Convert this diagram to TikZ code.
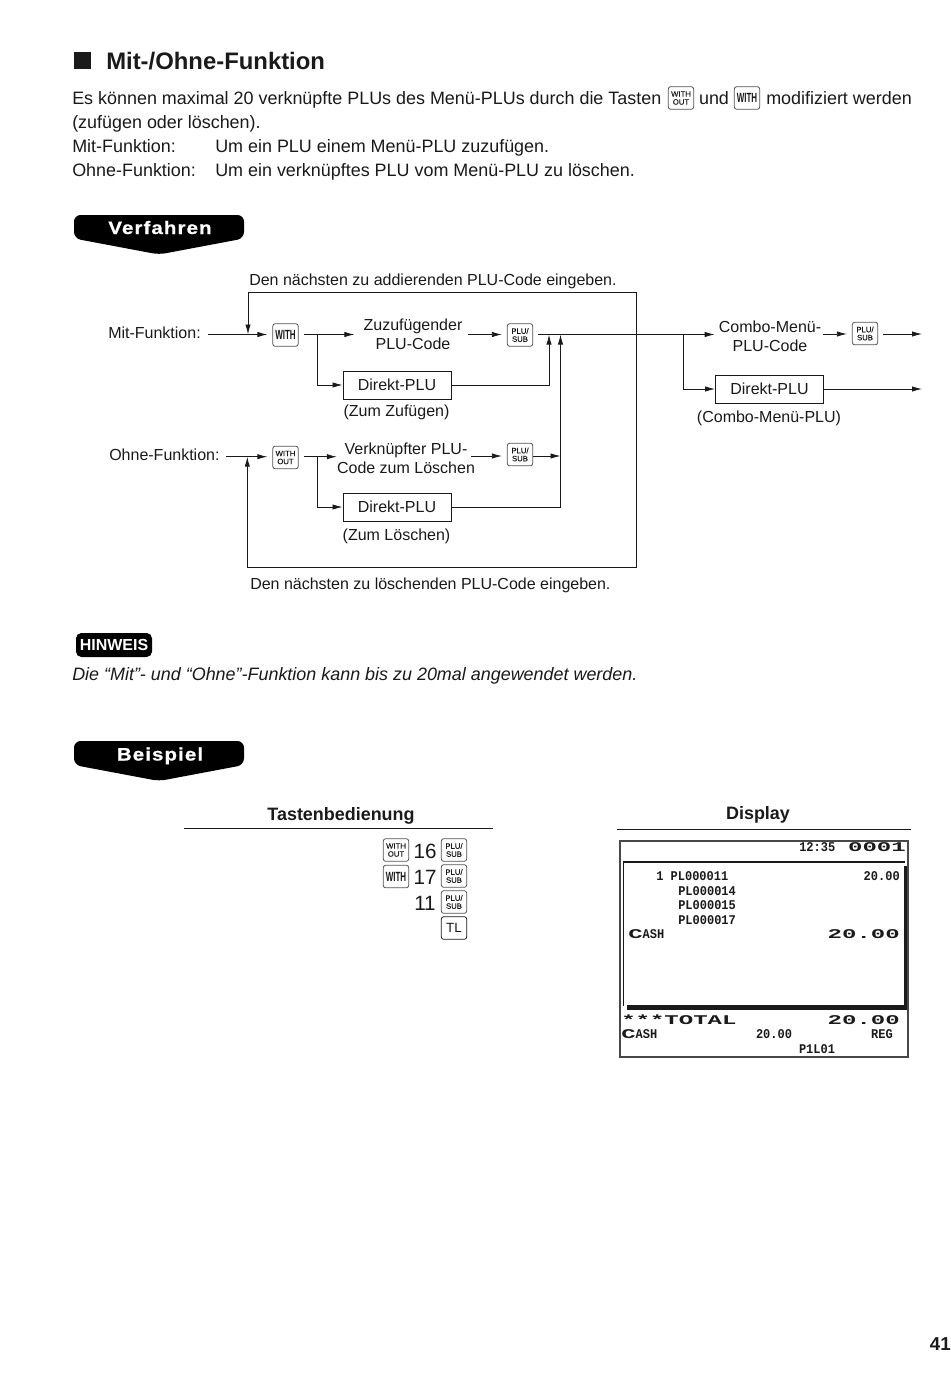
\documentclass[tikz,border=0pt]{standalone}
\usepackage{fontspec}
\setmainfont{Liberation Sans}
\newfontfamily\dispf[FakeStretch=0.9]{Liberation Mono}
\newfontfamily\dispw[FakeStretch=1.8]{Liberation Mono}
\newfontfamily\withf[FakeStretch=0.6]{Liberation Sans}
\newfontfamily\keyf[FakeBold=0.25]{Liberation Sans}
\newfontfamily\banf[FakeStretch=1.14,LetterSpace=6,FakeBold=0.8]{Liberation Sans}
\usetikzlibrary{arrows.meta}
\definecolor{ink}{HTML}{1A1A1A}
\tikzset{
  x=0.75pt,y=-0.75pt,
  txt/.style={inner sep=0pt,text=ink,font=\fontsize{13.45}{16}\selectfont},
  lbl/.style={inner sep=0pt,text=ink,font=\fontsize{12}{14.25}\selectfont,align=center},
  keybox/.style={draw=ink!75,line width=0.6pt,rounded corners=1.8pt,minimum width=19pt,minimum height=17pt,inner sep=0pt,align=center,text=ink},
  smallkey/.style={keybox,font=\keyf\fontsize{5.8}{6}\selectfont},
  withkey/.style={keybox,font=\withf\bfseries\fontsize{10}{10}\selectfont},
  tlkey/.style={keybox,draw=ink,font=\fontsize{10}{10}\selectfont},
  dbox/.style={draw=ink,line width=0.7pt,minimum width=81pt,minimum height=21pt,inner sep=0pt,text=ink,font=\fontsize{12}{14}\selectfont},
  ln/.style={draw=ink,line width=0.6pt},
  thk/.style={draw=ink,line width=0.7pt},
  tipped/.style={-{Latex[length=7.5pt,width=4pt]}},
  arr/.style={ln,tipped},
  tharr/.style={thk,tipped},
  togap/.style={shorten >=3.75pt},
  fromgap/.style={shorten <=3.75pt},
  banner/.style={fill=black,draw=none},
  bannertxt/.style={inner sep=0pt,text=white,font=\banf\bfseries\fontsize{13.5}{15}\selectfont,anchor=base},
  disp/.style={inner sep=0pt,text=ink,font=\dispf\bfseries\fontsize{10}{10}\selectfont},
  dispbig/.style={inner sep=0pt,text=ink,font=\dispw\bfseries\fontsize{10}{10}\selectfont},
  nums/.style={txt,font=\fontsize{15.5}{16}\selectfont},
  boldtxt/.style={txt,font=\bfseries\fontsize{13.45}{16}\selectfont,anchor=base},
}
\begin{document}
\begin{tikzpicture}
\useasboundingbox (0,0) rectangle (950,1377);
\fill[white] (0,0) rectangle (950,1377);
% heading
\fill[ink] (74,52) rectangle (91,69);
\node[txt,anchor=west,font=\bfseries\fontsize{17.9}{20}\selectfont] (title) at (106,61) {Mit-/Ohne-Funktion};
\node[txt,anchor=base west] (p1a) at (72,104.7) {Es können maximal 20 verknüpfte PLUs des Menü-PLUs durch die Tasten};
\node[smallkey] (kwo0) at (681,98) {WITH\\OUT};
\node[txt,anchor=base] (und) at (714,104.7) {und};
\node[withkey] (kw0) at (747,98) {WITH};
\node[txt,anchor=base west] (p1b) at (766,104.7) {modifiziert werden};
\node[txt,anchor=base west] (p2) at (72,128.7) {(zufügen oder löschen).};
\node[txt,anchor=base west] (p3) at (72,152) {Mit-Funktion:};
\node[txt,anchor=base west] (p3b) at (215,152) {Um ein PLU einem Menü-PLU zuzufügen.};
\node[txt,anchor=base west] (p4) at (72,176) {Ohne-Funktion:};
\node[txt,anchor=base west] (p4b) at (215,176) {Um ein verknüpftes PLU vom Menü-PLU zu löschen.};
% Verfahren banner
\fill[banner,rounded corners=5pt] (74,215) -- (244,215) -- (244,238.5) -- (159,254.5) -- (74,238.5) -- cycle;
\node[bannertxt] (vf) at (160,234) {Verfahren};
% diagram nodes
\node[lbl,anchor=base west] (toplbl) at (249,285) {Den nächsten zu addierenden PLU-Code eingeben.};
\node[lbl,anchor=base west] (mit) at (108,338) {Mit-Funktion:};
\coordinate (mits) at (208,334.5);
\coordinate (mitj) at (248,334.5);
\node[withkey] (kw1) at (285.5,335) {WITH};
\coordinate (b1) at (317,334.5);
\node[lbl] (zu) at (413,334) {Zuzufügender\\PLU-Code};
\coordinate (zuo) at (468,334.5);
\node[smallkey] (ps1) at (520,335) {PLU/\\SUB};
\node[dbox] (d1) at (397,385) {Direkt-PLU};
\node[lbl,anchor=base] (zz) at (396.5,416) {(Zum Zufügen)};
\coordinate (up1t) at (549,334.5);
\coordinate (j2) at (560.5,334.5);
\coordinate (lc) at (636.5,334.5);
\coordinate (ltr) at (636.5,292);
\coordinate (ltl) at (248,292);
\coordinate (lbr) at (636.5,567);
\coordinate (lbl0) at (247.3,567);
\coordinate (j3) at (683.5,334.5);
\node[lbl] (combo) at (770,336) {Combo-Menü-\\PLU-Code};
\coordinate (coo) at (823,334);
\node[smallkey] (ps3) at (865,333.5) {PLU/\\SUB};
\coordinate (e1) at (922,334);
\node[dbox] (d3) at (769.5,389) {Direkt-PLU};
\coordinate (e2) at (922,389);
\node[lbl,anchor=base] (cm) at (769,422) {(Combo-Menü-PLU)};
\node[lbl,anchor=base west] (ohne) at (109,460) {Ohne-Funktion:};
\coordinate (os) at (226,456.7);
\coordinate (oj) at (247.3,456.7);
\node[smallkey] (kwo1) at (285.5,457.5) {WITH\\OUT};
\coordinate (b2) at (317,456.7);
\node[lbl] (vk) at (406,458) {Verknüpfter PLU-\\Code zum Löschen};
\coordinate (vko) at (471,456);
\node[smallkey] (ps2) at (520,454.5) {PLU/\\SUB};
\node[dbox] (d2) at (397,507) {Direkt-PLU};
\node[lbl,anchor=base] (zl) at (396.5,540) {(Zum Löschen)};
\node[lbl,anchor=base west] (botlbl) at (250,589) {Den nächsten zu löschenden PLU-Code eingeben.};
% connectors
\draw[tharr,togap] (mits) -- (kw1.west|-mits);
\draw[ln,fromgap] (kw1.east|-b1) -- (b1);
\draw[arr,shorten >=6.75pt] (b1) -- (zu.west|-b1);
\draw[arr] (b1) |- (d1.west);
\draw[arr,togap] (zuo) -- (ps1.west|-zuo);
\draw[ln,fromgap] (ps1.east|-j3) -- (j3);
\draw[arr,shorten >=3pt] (j3) -- (combo.west|-j3);
\draw[arr] (j3) |- (d3.west);
\draw[arr,togap] (coo) -- (ps3.west|-coo);
\draw[arr,fromgap] (ps3.east|-e1) -- (e1);
\draw[arr] (d3.east) -- (e2);
\draw[tharr] (d1.east) -| (up1t);
\draw[arr] (d2.east) -| (j2);
\draw[arr] (ps2.east|-vko) -- (vko-|j2);
\draw[tharr,togap] (os) -- (kwo1.west|-os);
\draw[ln,fromgap] (kwo1.east|-b2) -- (b2);
\draw[arr] (b2) -- (vk.west|-b2);
\draw[arr] (b2) |- (d2.west);
\draw[arr,togap] (vko) -- (ps2.west|-vko);
\draw[thk,tipped] (lc) -- (ltr) -- (ltl) -- (mitj);
\draw[thk,tipped] (lc) -- (lbr) -- (lbl0) -- (oj);
% Hinweis
\node[fill=black,rounded corners=4pt,text=white,inner sep=0pt,minimum width=57pt,minimum height=18pt,font=\bfseries\fontsize{12}{14}\selectfont] (hw) at (114,645) {HINWEIS};
\node[txt,anchor=base west,font=\itshape\fontsize{13.45}{16}\selectfont] (hwt) at (72,680) {Die “Mit”- und “Ohne”-Funktion kann bis zu 20mal angewendet werden.};
% Beispiel banner
\fill[banner,rounded corners=5pt] (74,741) -- (244,741) -- (244,765) -- (159,781) -- (74,765) -- cycle;
\node[bannertxt] (bs) at (160,760.5) {Beispiel};
% Tastenbedienung
\node[boldtxt] (tb) at (341,820) {Tastenbedienung};
\node[boldtxt] (dsp) at (758,819) {Display};
\coordinate (r1a) at (184,828); \coordinate (r1b) at (493,828);
\coordinate (r2a) at (617,829); \coordinate (r2b) at (911,829);
\draw[ln] (r1a) -- (r1b);
\draw[ln] (r2a) -- (r2b);
\node[smallkey] (k1) at (396,850) {WITH\\OUT};
\node[nums] (n16) at (425,851) {16};
\node[smallkey] (k2) at (454,850) {PLU/\\SUB};
\node[withkey] (k3) at (396,876.5) {WITH};
\node[nums] (n17) at (425,877) {17};
\node[smallkey] (k4) at (454,876) {PLU/\\SUB};
\node[nums] (n11) at (425,903) {11};
\node[smallkey] (k5) at (454,902) {PLU/\\SUB};
\node[tlkey] (k6) at (454,928) {TL};
% Display
\draw[draw=ink!80,line width=0.8pt] (620,841) rectangle (908,1057);
\draw[draw=ink,line width=0.9pt] (623.5,1006) -- (623.5,862) -- (905,862);
\fill[ink] (904,866) rectangle (907,1009);
\fill[ink] (627,1005) rectangle (907,1009.5);
\node[disp,anchor=base west] (tm) at (799,851) {12:35};
\node[dispbig,anchor=base east] (cnt) at (906,851.5) {0001};
\node[disp,anchor=base west] (l1) at (656,880.5) {1 PL000011};
\node[disp,anchor=base east] (l1r) at (900,880.5) {20.00};
\node[disp,anchor=base west] (l2) at (678,895) {PL000014};
\node[disp,anchor=base west] (l3) at (678,909.5) {PL000015};
\node[disp,anchor=base west] (l4) at (678,924) {PL000017};
\node[disp,anchor=base west] (l5) at (628,938.5) {{\dispw C}ASH};
\node[dispbig,anchor=base east] (l5r) at (900,938.5) {20.00};
\node[dispbig,anchor=base west] (tot) at (621,1024.5) {***TOTAL};
\node[dispbig,anchor=base east] (totr) at (900,1024.5) {20.00};
\node[disp,anchor=base west] (c2) at (621,1038.5) {{\dispw C}ASH};
\node[disp,anchor=base] (c2m) at (774,1038.5) {20.00};
\node[disp,anchor=base east] (reg) at (893,1038.5) {REG};
\node[disp,anchor=base] (pl) at (817,1053.5) {P1L01};
\node[txt,anchor=east,font=\bfseries\fontsize{14}{16}\selectfont] (pg) at (951,1344) {41};
\end{tikzpicture}
\end{document}
